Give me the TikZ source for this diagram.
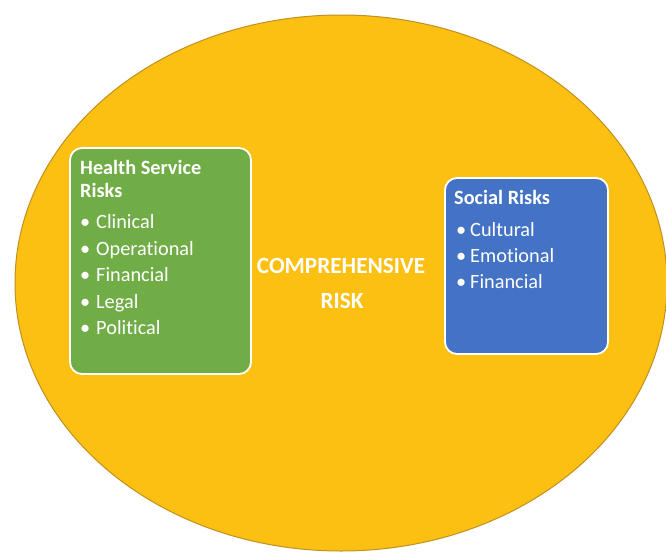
\documentclass[tikz,border=0pt]{standalone}
\usepackage{fontspec}
\setmainfont{Carlito}[Ligatures=NoCommon]
\definecolor{riskgold}{HTML}{FBC011}
\definecolor{riskedge}{HTML}{C09020}
\definecolor{hgreen}{HTML}{70AD47}
\definecolor{sblue}{HTML}{4472C4}
\newcommand{\bul}[1]{\makebox[#1][l]{•}}
\begin{document}
\begin{tikzpicture}[x=1pt,y=-1pt,
  panel/.style={draw=white,line width=1.8pt,rounded corners=12pt},
  head/.style={anchor=base west,inner sep=0pt,text=white,font=\fontsize{20.3}{24}\selectfont\bfseries},
  item/.style={anchor=base west,inner sep=0pt,text=white,font=\fontsize{20.3}{24}\selectfont},
  centre/.style={anchor=base,inner sep=0pt,text=white,font=\fontsize{23.2}{28}\selectfont\bfseries}]
\useasboundingbox (0,0) rectangle (666,551);
\clip (0,0) rectangle (666,551);
\fill[white] (0,0) rectangle (666,551);
\draw[fill=riskgold,draw=riskedge,line width=1pt] (341,283) ellipse [x radius=326, y radius=268];
% health service panel
\draw[panel,fill=hgreen] (70,148) rectangle (251,374);
\node[head] (h1) at (80,174) {Health Service};
\node[head] (h2) at (80,197) {Risks};
\node[item] (h3) at (80,228) {\bul{16pt}Clinical};
\node[item] (h4) at (80,255) {\bul{16pt}Operational};
\node[item] (h5) at (80,281) {\bul{16pt}Financial};
\node[item] (h6) at (80,308) {\bul{16pt}Legal};
\node[item] (h7) at (80,334) {\bul{16pt}Political};
% social panel
\draw[panel,fill=sblue] (445,178) rectangle (608,354);
\node[head] (s1) at (454,204) {Social Risks};
\node[item] (s2) at (456,236) {\bul{14pt}Cultural};
\node[item] (s3) at (456,262) {\bul{14pt}Emotional};
\node[item] (s4) at (456,288) {\bul{14pt}Financial};
% centre
\node[centre] (c1) at (341,273) {COMPREHENSIVE};
\node[centre] (c2) at (342,308) {RISK};
\end{tikzpicture}
\end{document}
